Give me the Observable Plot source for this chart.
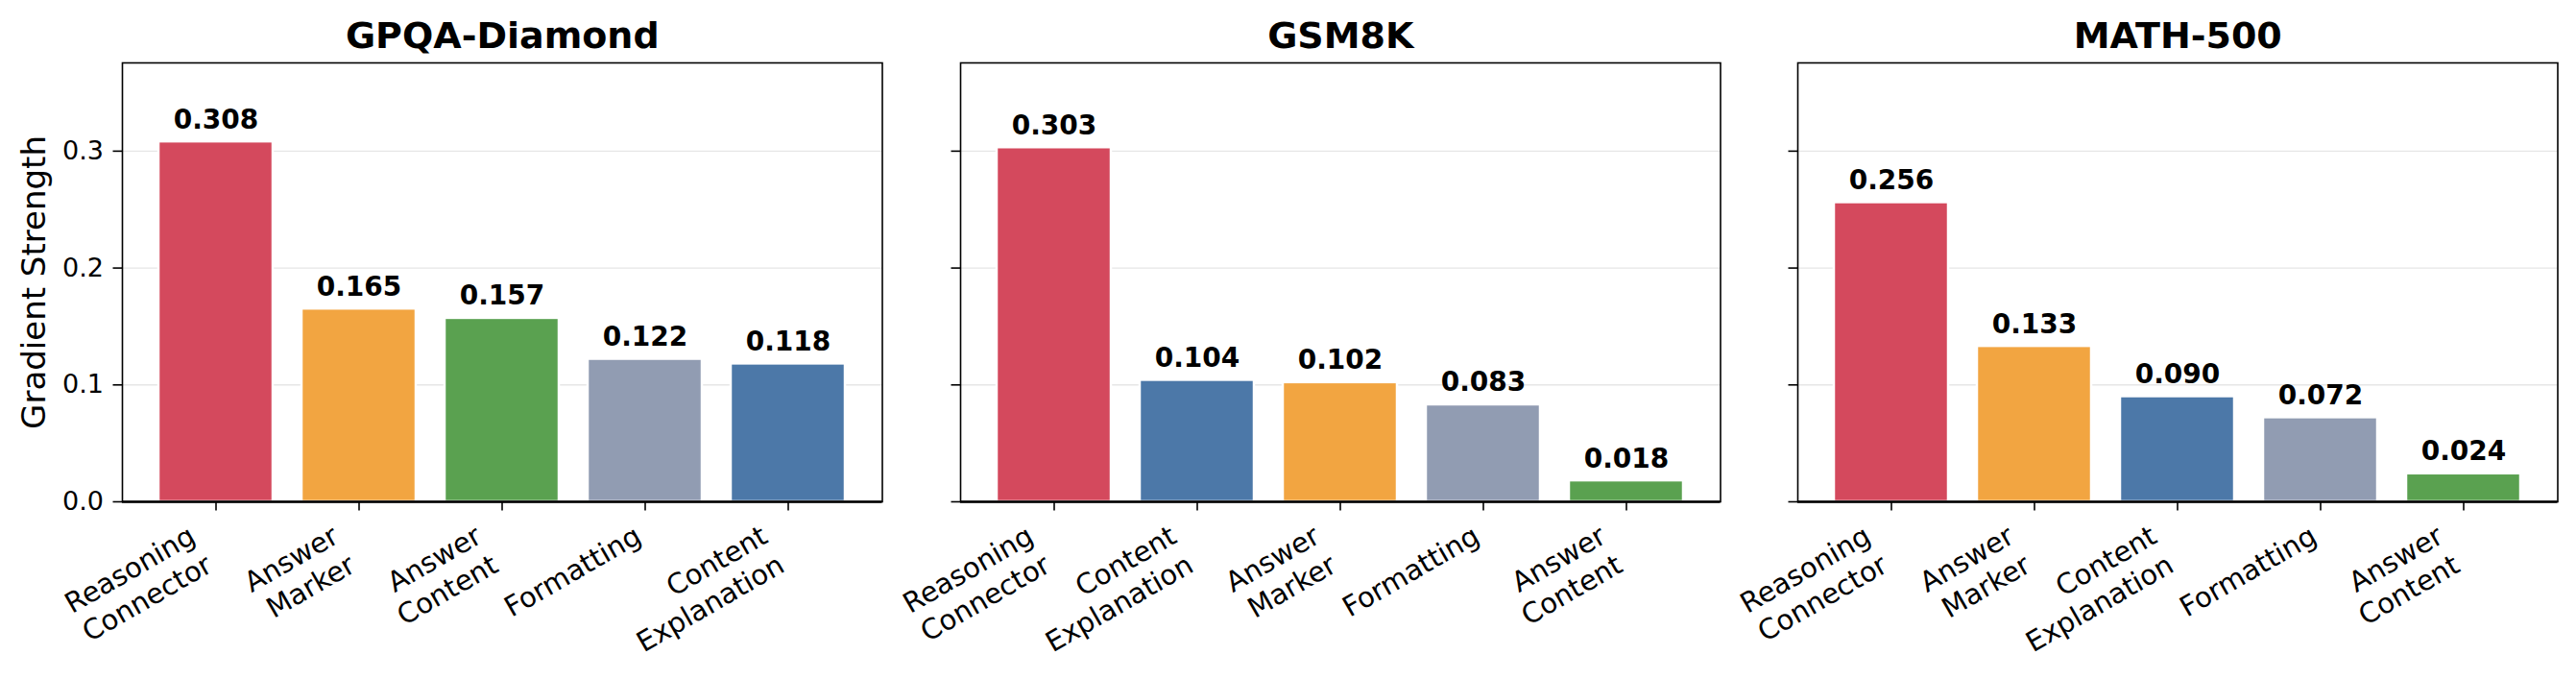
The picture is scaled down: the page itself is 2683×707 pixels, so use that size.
<!DOCTYPE html>
<html>
<head>
<meta charset="utf-8">
<script src="https://cdn.jsdelivr.net/npm/d3@7"></script>
<script src="https://cdn.jsdelivr.net/npm/@observablehq/plot@0.6"></script>
<style>
  html, body { margin: 0; padding: 0; background: white; }
  #root { position: relative; width: 2683px; height: 707px; background: white; overflow: hidden; }
  #root svg { position: absolute; top: 0; overflow: visible; }
</style>
</head>
<body>
<div id="root"></div>
<script>
// ---- data ----
const datasets = ["GPQA-Diamond", "GSM8K", "MATH-500"];

const gpqaCategories = ["Reasoning Connector", "Answer Marker", "Answer Content", "Formatting", "Content Explanation"];
const gpqaValues = [0.308, 0.165, 0.157, 0.122, 0.118];

const gsm8kCategories = ["Reasoning Connector", "Content Explanation", "Answer Marker", "Formatting", "Answer Content"];
const gsm8kValues = [0.303, 0.104, 0.102, 0.083, 0.018];

const mathCategories = ["Reasoning Connector", "Answer Marker", "Content Explanation", "Formatting", "Answer Content"];
const mathValues = [0.256, 0.133, 0.090, 0.072, 0.024];

const categoryNames = ["Reasoning Connector", "Answer Marker", "Answer Content", "Formatting", "Content Explanation"];
const categoryTickLabels = ["Reasoning\nConnector", "Answer\nMarker", "Answer\nContent", "Formatting", "Content\nExplanation"];
const categoryColors = ["#d4495d", "#f2a541", "#5aa150", "#919cb2", "#4c78a8"];

const yTicks = [0, 0.1, 0.2, 0.3];
const yLabel = "Gradient Strength";
const yMax = 0.3755;

// ---- layout ----
const FONT = "DejaVu Sans";
const frameLefts = [127, 999.5, 1871.7];
const frameW = 791.5;
const frameTop = 65;
const frameBottom = 522;
const H = 707;
const mL = 127, mR = 12;

const panels = [
  {title: datasets[0], cats: gpqaCategories, vals: gpqaValues},
  {title: datasets[1], cats: gsm8kCategories, vals: gsm8kValues},
  {title: datasets[2], cats: mathCategories, vals: mathValues}
];

const labelOf = c => categoryTickLabels[categoryNames.indexOf(c)];
const xFont = 29;
const rot = 30 * Math.PI / 180;

const root = document.getElementById("root");

panels.forEach((p, i) => {
  const data = p.cats.map((c, j) => ({category: c, value: p.vals[j]}));
  const first = i === 0;
  const lines = c => labelOf(c).split("\n").length;
  const boxH = c => (0.76 + (lines(c) - 1) * 1.2 + 0.24) * xFont;

  const marks = [
    Plot.gridY(yTicks.filter(d => d > 0), {stroke: "#e6e6e6", strokeOpacity: 1, strokeWidth: 1.4}),
    Plot.barY(data, {x: "category", y: "value", fill: d => categoryColors[categoryNames.indexOf(d.category)], stroke: "white", strokeWidth: 2.5}),
    Plot.frame({stroke: "black", strokeWidth: 1.6}),
    Plot.ruleY([0], {stroke: "black", strokeWidth: 2.6}),
    Plot.axisY({ticks: yTicks, tickSize: 9.5, tickPadding: 10, strokeWidth: 1.6, fontSize: 27,
      tickFormat: first ? d3.format(".1f") : () => "", label: null}),
    Plot.axisX({tickSize: 9.5, strokeWidth: 1.6, tickFormat: () => "", label: null}),
    // x tick labels (rotated, right-aligned, two lines)
    ...p.cats.map(c => Plot.text([c], {
      x: d => d, frameAnchor: "bottom",
      text: d => labelOf(d),
      rotate: -30, textAnchor: "end", lineAnchor: "top", lineHeight: 1.2,
      fontSize: xFont,
      dx: -boxH(c) * Math.sin(rot), dy: 20
    })),
    // value labels
    Plot.text(data, {x: "category", y: "value", text: d => d3.format(".3f")(d.value),
      dy: -14, lineAnchor: "bottom", fontSize: 28, fontWeight: "bold"}),
    // title
    Plot.text([p.title], {frameAnchor: "top", text: d => d, dy: -16, lineAnchor: "bottom",
      fontSize: 38, fontWeight: "bold"})
  ];
  if (first) {
    marks.push(Plot.text([yLabel], {frameAnchor: "left", text: d => d, rotate: -90,
      dx: 46 - mL, lineAnchor: "bottom", textAnchor: "middle", fontSize: 34}));
  }

  const chart = Plot.plot({
    width: mL + frameW + mR,
    height: H,
    marginLeft: mL,
    marginRight: mR,
    marginTop: frameTop,
    marginBottom: H - frameBottom,
    style: {fontFamily: FONT, background: "transparent", color: "black", overflow: "visible"},
    x: {type: "band", domain: p.cats, paddingInner: 0.2, paddingOuter: 0.24, axis: null},
    y: {domain: [0, yMax], axis: null},
    marks
  });
  chart.style.left = (frameLefts[i] - mL) + "px";
  root.appendChild(chart);
});
</script>
</body>
</html>
